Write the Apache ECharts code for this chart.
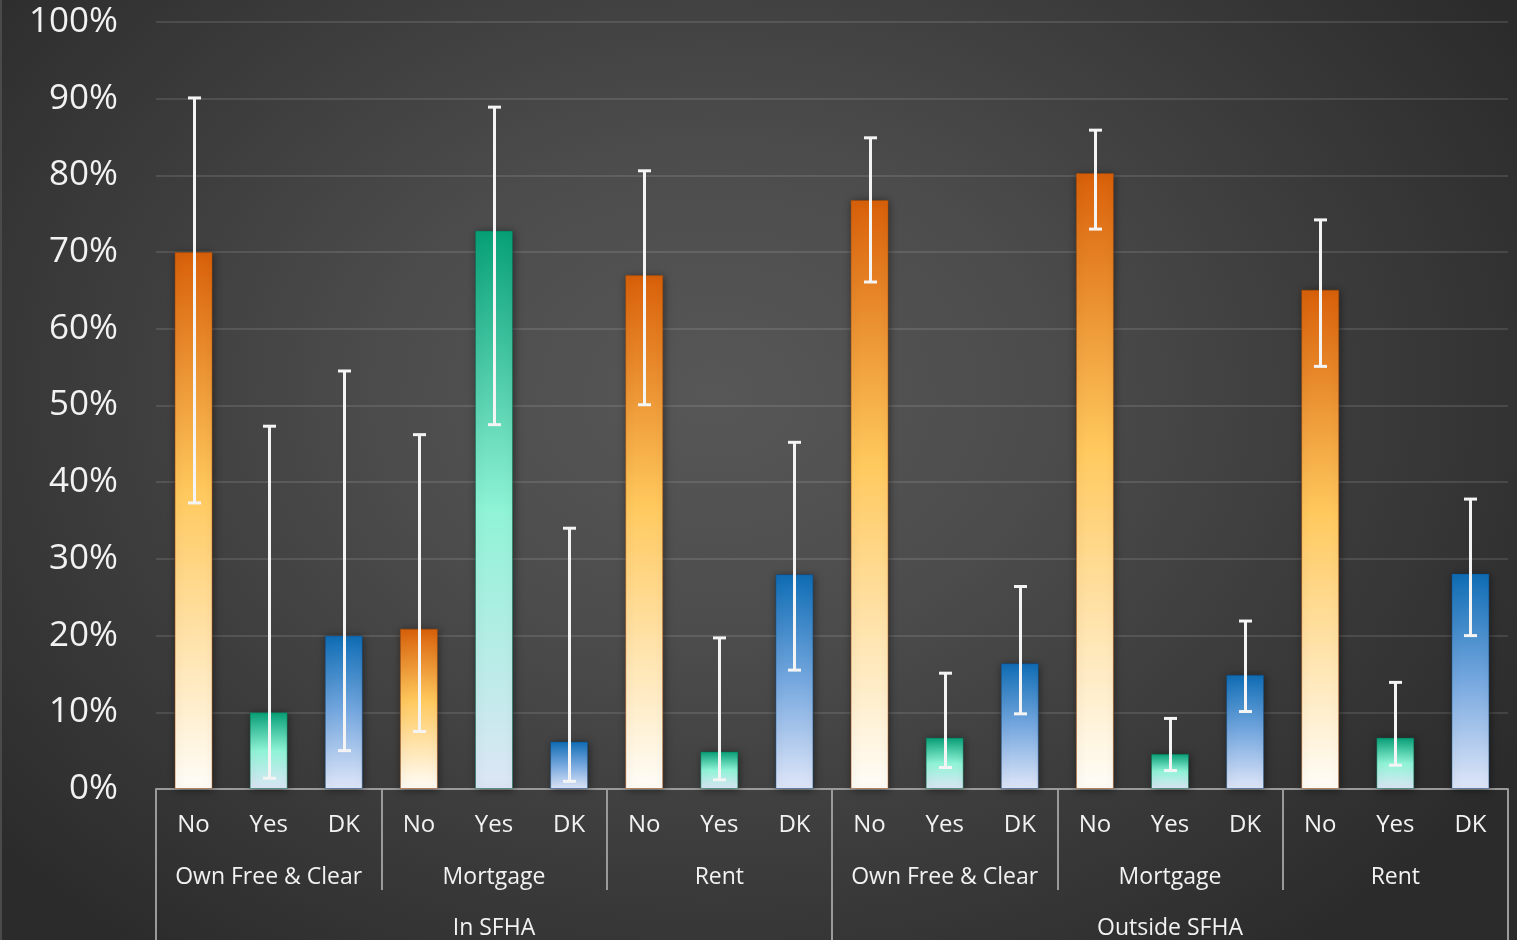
<!DOCTYPE html>
<html>
<head>
<meta charset="utf-8">
<script src="https://cdn.jsdelivr.net/npm/echarts@6/dist/echarts.min.js"></script>
<style>
  html, body { margin: 0; padding: 0; width: 1517px; height: 940px; overflow: hidden; }
  #chart {
    width: 1517px; height: 940px; box-sizing: border-box;
    border-left: 2px solid #4a4a4a;
    background: radial-gradient(ellipse 62% 75% at 47% 42%, #575757 0%, #4c4c4c 35%, #3a3a3a 70%, #2b2b2b 100%);
  }
</style>
</head>
<body>
<div id="chart"></div>
<script>
// Response categories, bottom row of the axis
const answers = ['No', 'Yes', 'DK', 'No', 'Yes', 'DK', 'No', 'Yes', 'DK',
                 'No', 'Yes', 'DK', 'No', 'Yes', 'DK', 'No', 'Yes', 'DK'];
// Housing tenure, middle row
const tenure = ['Own Free & Clear', 'Mortgage', 'Rent', 'Own Free & Clear', 'Mortgage', 'Rent'];
// Flood zone, top-level grouping
const zones = ['In SFHA', 'Outside SFHA'];

// Share of respondents (%)
const shares = [70.0, 10.0, 20.0, 20.9, 72.8, 6.2, 67.0, 4.9, 28.0,
                76.8, 6.7, 16.4, 80.3, 4.6, 14.9, 65.1, 6.7, 28.1];
// Confidence interval bounds (%)
const ciLow  = [37.3, 1.4, 5.0, 7.5, 47.5, 1.0, 50.1, 1.2, 15.5,
                66.1, 2.8, 9.8, 73.0, 2.4, 10.1, 55.1, 3.1, 20.0];
const ciHigh = [90.1, 47.3, 54.5, 46.2, 88.9, 34.0, 80.6, 19.7, 45.2,
                84.9, 15.1, 26.4, 85.9, 9.2, 21.9, 74.2, 13.9, 37.8];

const yTicks = [0, 10, 20, 30, 40, 50, 60, 70, 80, 90, 100];

const FONT = '"Open Sans", "DejaVu Sans", sans-serif';
const TEXT = '#f2f2f2';
const SEP = '#9a9a9a';

function vgrad(stops) {
  return new echarts.graphic.LinearGradient(0, 0, 0, 1,
    stops.map(s => ({ offset: s[0], color: s[1] })));
}
const fills = {
  No:  { fill: vgrad([[0, '#d9600a'], [0.45, '#ffc95e'], [1, '#fffdf8']]), edge: 'rgba(170,70,0,0.45)' },
  Yes: { fill: vgrad([[0, '#07a077'], [0.5, '#8ff3d6'], [1, '#dde6f6']]), edge: 'rgba(0,110,80,0.45)' },
  DK:  { fill: vgrad([[0, '#0f6db5'], [0.5, '#76a8df'], [1, '#e0e7f9']]), edge: 'rgba(10,70,130,0.45)' }
};

const barData = shares.map((v, i) => ({
  value: v,
  itemStyle: { color: fills[answers[i]].fill, borderColor: fills[answers[i]].edge }
}));
const errData = shares.map((v, i) => [i, ciLow[i], ciHigh[i]]);

const chart = echarts.init(document.getElementById('chart'), null, { renderer: 'canvas' });

chart.setOption({
  backgroundColor: 'transparent',
  animation: false,
  grid: { left: 154, right: 9, top: 22, bottom: 151, containLabel: false },
  yAxis: {
    type: 'value', min: 0, max: 100, interval: 10,
    axisLine: { show: false }, axisTick: { show: false },
    splitLine: { lineStyle: { color: 'rgba(255,255,255,0.11)', width: 2 } },
    axisLabel: {
      margin: 38, color: TEXT, fontFamily: FONT, fontSize: 35,
      formatter: v => yTicks.includes(v) ? v + '%' : ''
    }
  },
  xAxis: [
    {
      type: 'category', data: answers, position: 'bottom',
      axisLine: { lineStyle: { color: SEP, width: 2 } },
      axisTick: { show: false },
      axisLabel: { margin: 36, verticalAlign: 'middle', color: TEXT, fontFamily: FONT, fontSize: 24, interval: 0 }
    },
    {
      type: 'category', data: tenure, position: 'bottom',
      axisLine: { show: false },
      axisTick: { show: true, length: 101, alignWithLabel: false, lineStyle: { color: SEP, width: 2 } },
      axisLabel: { margin: 88, verticalAlign: 'middle', color: TEXT, fontFamily: FONT, fontSize: 23, interval: 0 }
    },
    {
      type: 'category', data: zones, position: 'bottom',
      axisLine: { show: false },
      axisTick: { show: true, length: 160, alignWithLabel: false, lineStyle: { color: SEP, width: 2 } },
      axisLabel: { margin: 139, verticalAlign: 'middle', color: TEXT, fontFamily: FONT, fontSize: 23, interval: 0 }
    }
  ],
  series: [
    {
      type: 'bar', xAxisIndex: 0, barWidth: 38,
      data: barData,
      itemStyle: { borderWidth: 1, shadowBlur: 8, shadowColor: 'rgba(0,0,0,0.45)', shadowOffsetX: 1, shadowOffsetY: 1 }
    },
    {
      type: 'custom', xAxisIndex: 0, z: 10,
      data: errData,
      renderItem: function (params, api) {
        const lo = api.coord([api.value(0), api.value(1)]);
        const hi = api.coord([api.value(0), api.value(2)]);
        const x = Math.round(lo[0]) + 0.5;
        const cap = 6.5;
        const st = { stroke: '#f4f4f4', lineWidth: 3 };
        return {
          type: 'group',
          children: [
            { type: 'line', shape: { x1: x, y1: hi[1], x2: x, y2: lo[1] }, style: st },
            { type: 'line', shape: { x1: x - cap, y1: hi[1], x2: x + cap, y2: hi[1] }, style: st },
            { type: 'line', shape: { x1: x - cap, y1: lo[1], x2: x + cap, y2: lo[1] }, style: st }
          ]
        };
      }
    }
  ]
});
</script>
</body>
</html>
